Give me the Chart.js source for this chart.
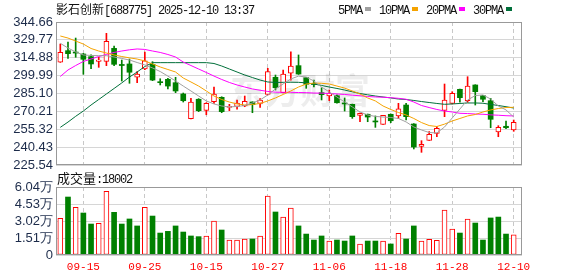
<!DOCTYPE html>
<html>
<head>
<meta charset="utf-8">
<script src="https://cdn.jsdelivr.net/npm/chart.js@4.4.1/dist/chart.umd.min.js"></script>
<style>
  body { margin: 0; background: #fff; }
  #wrap { position: relative; width: 578px; height: 276px; overflow: hidden; }
  #priceChart { position: absolute; left: 0; top: 0; }
  #volChart { position: absolute; left: 0; top: 176px; }
  .txt { position: absolute; white-space: nowrap; color: #111; line-height: 16px; }
  .mono { font-family: "Liberation Mono", monospace; font-size: 12px; letter-spacing: -1.2px; }
  .cjk { font-family: "Noto Sans CJK SC", sans-serif; font-size: 12px; }
  .box { display: inline-block; width: 6px; height: 4px; margin: 0 8px 2px 3px; vertical-align: middle; }
</style>
</head>
<body>
<div id="wrap">
  <canvas id="priceChart" width="578" height="176"></canvas>
  <canvas id="volChart" width="578" height="100"></canvas>
  <div class="txt" style="left:56px;top:1px;"><span class="cjk">影石创新</span><span class="mono">[688775] 2025-12-10 13:37</span></div>
  <div class="txt" style="left:338px;top:1px;">
    <span class="mono">5PMA</span><span class="box" style="background:#a0a0a0"></span><span class="mono">10PMA</span><span class="box" style="background:#f5a300"></span><span class="mono">20PMA</span><span class="box" style="background:#ff00ff"></span><span class="mono">30PMA</span><span class="box" style="background:#006f3a"></span>
  </div>
  <div class="txt" style="left:57px;top:170px;"><span class="cjk" style="font-size:13px">成交量</span><span class="mono">:18002</span></div>
</div>
<script>
// --- data ---
const dates = ['09-10','09-11','09-12','09-15','09-16','09-17','09-18','09-19','09-22','09-23',
  '09-24','09-25','09-26','09-29','09-30','10-09','10-10','10-13','10-14','10-15',
  '10-16','10-17','10-20','10-21','10-22','10-23','10-24','10-27','10-28','10-29',
  '10-30','10-31','11-03','11-04','11-05','11-06','11-07','11-10','11-11','11-12',
  '11-13','11-14','11-17','11-18','11-19','11-20','11-21','11-24','11-25','11-26',
  '11-27','11-28','12-01','12-02','12-03','12-04','12-05','12-08','12-09','12-10'];
const tickDates = ['09-15','09-25','10-15','10-27','11-06','11-18','11-28','12-10'];

const open = [311.1,320.8,319.4,318.0,315.8,311.9,311.9,322.7,309.3,309.7,
  298.6,305.5,309.4,294.7,296.9,294.1,284.7,264.1,280.3,271.1,
  278.3,281.9,273.6,274.4,274.7,278.0,276.9,284.4,298.6,285.8,
  302.0,308.3,298.3,293.3,285.8,283.0,283.3,276.9,276.1,266.9,
  267.8,262.0,259.4,267.8,266.4,275.5,259.7,241.1,246.1,251.9,
  271.1,276.9,288.6,279.1,292.2,283.3,279.1,253.0,257.8,254.7];
const high = [326.3,328.0,331.3,318.5,317.4,315.3,335.2,324.7,313.0,313.8,
  303.3,319.7,311.6,297.4,297.8,298.6,285.5,281.1,280.8,277.4,
  290.5,282.4,276.1,279.7,283.0,278.2,280.8,306.1,300.5,304.7,
  319.9,317.2,298.5,296.3,289.9,288.0,283.9,281.4,276.3,268.8,
  268.0,266.4,267.0,268.0,276.9,276.9,260.0,245.8,253.3,257.5,
  293.0,286.6,288.8,299.1,292.4,283.5,281.1,258.3,262.2,263.0];
const low = [311.0,314.4,315.3,301.1,305.8,306.9,308.3,308.3,295.5,293.6,
  294.1,305.0,295.8,292.2,288.9,285.8,278.0,264.0,270.0,267.4,
  276.9,269.1,270.8,272.0,274.1,269.1,273.6,283.9,288.0,285.5,
  296.3,301.0,289.4,290.6,279.7,279.1,277.0,270.5,264.4,261.6,
  261.6,256.9,259.3,260.8,264.4,263.0,238.9,236.1,246.0,249.1,
  265.8,276.4,277.8,277.8,275.5,278.3,256.6,249.1,255.8,253.6];
const close = [319.4,318.3,318.8,313.6,309.7,313.0,328.6,309.4,308.4,302.8,
  301.3,312.4,296.3,294.1,291.3,287.2,279.1,278.0,270.8,276.9,
  284.7,270.0,274.1,277.2,278.6,275.8,279.7,303.3,289.9,301.3,
  308.0,301.3,292.8,292.6,284.1,285.3,277.4,276.4,265.8,268.6,
  265.5,261.4,266.9,262.4,272.4,265.8,240.5,242.8,251.1,256.1,
  279.7,285.3,281.6,291.3,286.6,280.3,263.6,256.9,256.6,261.1];

const ma5 = [326.9,323.0,319.7,317.2,316.8,316.6,316.6,315.5,314.3,313.0,
  310.9,308.9,306.4,303.4,299.6,295.5,291.3,287.2,283.0,278.9,
  276.4,274.7,273.9,274.3,275.1,277.2,279.7,283.9,288.9,293.1,
  297.2,299.6,298.8,295.5,290.5,286.4,282.2,278.0,273.9,269.7,
  267.2,266.0,265.5,265.1,264.3,261.4,257.2,254.7,252.6,252.2,
  257.2,264.7,272.2,279.7,283.4,283.9,280.5,274.7,271.4,265.5];
const ma10 = [333.0,331.3,328.8,326.3,322.6,320.5,318.8,317.2,315.9,314.8,
  313.8,312.2,309.7,307.2,305.1,303.0,298.0,294.7,291.3,287.2,
  283.0,280.1,278.0,276.4,275.5,275.9,276.8,278.9,281.4,284.3,
  287.2,290.5,293.0,293.8,293.6,293.0,291.3,289.6,287.2,284.7,
  281.4,278.9,274.7,271.8,269.3,267.2,264.3,260.9,258.4,257.6,
  259.6,262.2,264.3,266.4,267.6,269.7,271.4,272.6,273.4,273.6];
const ma20 = [299.3,304.7,308.4,311.8,313.8,315.9,317.6,319.3,320.5,321.5,
  322.2,321.8,320.5,319.3,317.6,315.5,311.3,308.4,305.5,302.6,
  299.6,296.8,294.3,292.2,290.5,288.9,287.8,286.8,286.2,286.1,
  286.1,285.9,285.8,285.5,285.4,285.1,284.7,284.3,283.7,283.2,
  282.6,282.2,282.0,281.6,281.1,280.3,278.0,275.1,273.4,271.8,
  270.5,269.7,268.6,268.4,268.0,267.8,267.3,267.0,266.6,266.4];
const ma30 = [256.9,261.3,266.1,270.5,275.5,280.1,284.7,289.3,293.9,298.8,
  303.0,307.6,310.8,310.8,310.8,310.8,310.8,310.8,310.8,310.8,
  310.1,308.0,305.5,303.0,300.5,298.4,296.3,294.7,294.3,294.4,
  294.5,294.4,294.0,293.0,291.8,290.5,289.3,288.0,286.5,285.1,
  284.0,283.0,282.2,281.4,280.5,280.1,279.3,278.4,277.6,276.8,
  276.1,276.4,276.8,277.2,277.2,277.0,276.0,275.1,274.1,273.0];

// volume in 万手
const volume = [3.26,5.15,4.24,3.73,2.75,2.81,5.66,3.79,2.75,3.20,
  2.58,4.24,3.46,1.95,2.10,2.58,2.04,1.69,1.63,1.69,
  3.02,2.22,1.33,1.33,1.42,1.42,1.69,5.24,3.82,3.37,
  4.17,2.58,1.86,1.33,1.69,1.24,1.33,1.24,1.69,0.98,
  1.24,1.24,1.24,0.98,1.93,1.42,2.58,1.24,1.39,1.30,
  4.00,2.31,1.95,3.20,2.84,1.33,3.29,3.37,1.86,1.80];

const priceTicks = [225.54,240.43,255.32,270.21,285.10,299.99,314.88,329.77,344.66];
const volTicks = [0,1.51,3.02,4.53,6.04];

// --- styles ---
const RED = '#ff0000', GREEN = '#008000';
const up = close.map((c, i) => c >= open[i]);
const volUp = close.map((c, i) => i === 0 ? true : c >= close[i - 1]);

const frame = {
  id: 'frame',
  afterDraw(chart) {
    const { ctx, chartArea: a } = chart;
    ctx.save();
    ctx.strokeStyle = '#999';
    ctx.lineWidth = 1;
    ctx.strokeRect(Math.round(a.left) + 0.5, Math.round(a.top) + 0.5,
      Math.round(a.right - a.left) - 1, Math.round(a.bottom - a.top) - 1);
    ctx.restore();
  }
};

const watermark = {
  id: 'watermark',
  beforeDatasetsDraw(chart) {
    const ctx = chart.ctx;
    ctx.save();
    ctx.font = 'bold 35px "Noto Sans CJK SC"';
    ctx.fillStyle = 'rgba(0,0,0,0.07)';
    ctx.fillText('东方财富', 230, 104);
    ctx.restore();
  }
};

function xAxis(showLabels) {
  return {
    type: 'linear', min: -0.56, max: 60.08, offset: false,
    afterBuildTicks: s => { s.ticks = tickDates.map(d => ({ value: dates.indexOf(d) })); },
    afterFit: s => { s.height = showLabels ? 21 : 0; },
    grid: { offset: false, color: '#c8c8c8', drawTicks: false },
    border: { display: false, dash: [4, 3] },
    ticks: {
      display: showLabels, autoSkip: false, maxRotation: 0, padding: 5,
      color: RED, font: { family: 'Liberation Mono', size: 11 },
      callback: v => dates[v]
    }
  };
}

function yAxis(min, max, tickVals, fmt) {
  return {
    min: min, max: max, beginAtZero: false,
    afterBuildTicks: s => { s.ticks = tickVals.map(v => ({ value: v })); },
    afterFit: s => { s.width = 56; },
    grid: { color: '#d6d6d6', drawTicks: false },
    border: { display: false },
    ticks: {
      autoSkip: false, padding: 3, color: '#1c2b4a',
      font: { family: 'Liberation Sans', size: 13 }, callback: fmt
    }
  };
}

const maLine = (label, vals, color) => ({
  type: 'line', label: label,
  data: vals.map((v, i) => ({ x: i, y: v })),
  borderColor: color, borderWidth: 1, pointRadius: 0, tension: 0, order: 0
});

// --- price chart ---
new Chart(document.getElementById('priceChart'), {
  type: 'bar',
  data: {
    datasets: [
      {
        label: 'wick',
        data: low.map((l, i) => ({ x: i, y: [l, high[i]] })),
        backgroundColor: c => up[c.dataIndex] ? RED : GREEN,
        barThickness: 1, grouped: false, order: 3
      },
      {
        label: 'body',
        data: open.map((o, i) => ({ x: i, y: [o, close[i]] })),
        backgroundColor: c => up[c.dataIndex] ? '#ffffff' : GREEN,
        borderColor: RED,
        borderWidth: c => up[c.dataIndex] ? 1 : 0,
        borderSkipped: false, minBarLength: 1,
        barThickness: 5, grouped: false, order: 2
      },
      maLine('5PMA', ma5, '#a0a0a0'),
      maLine('10PMA', ma10, '#f5a300'),
      maLine('20PMA', ma20, '#ff00ff'),
      maLine('30PMA', ma30, '#006f3a')
    ]
  },
  options: {
    responsive: false, animation: false, devicePixelRatio: 1,
    layout: { padding: { top: 22, right: 56, bottom: 11, left: 0 } },
    plugins: { legend: { display: false }, tooltip: { enabled: false } },
    scales: {
      x: xAxis(false),
      y: yAxis(225.54, 344.66, priceTicks, v => v.toFixed(2))
    }
  },
  plugins: [watermark, frame]
});

// --- volume chart ---
new Chart(document.getElementById('volChart'), {
  type: 'bar',
  data: {
    datasets: [{
      label: 'volume',
      data: volume.map((v, i) => ({ x: i, y: v })),
      backgroundColor: c => volUp[c.dataIndex] ? '#ffffff' : GREEN,
      borderColor: RED,
      borderWidth: c => volUp[c.dataIndex] ? 1 : 0,
      borderSkipped: false, barThickness: 5, grouped: false
    }]
  },
  options: {
    responsive: false, animation: false, devicePixelRatio: 1,
    layout: { padding: { top: 11, right: 56, bottom: 0, left: 0 } },
    plugins: { legend: { display: false }, tooltip: { enabled: false } },
    scales: {
      x: xAxis(true),
      y: yAxis(0, 6.04, volTicks, v => v === 0 ? '0' : v.toFixed(2) + '万')
    }
  },
  plugins: [frame]
});
</script>
</body>
</html>
